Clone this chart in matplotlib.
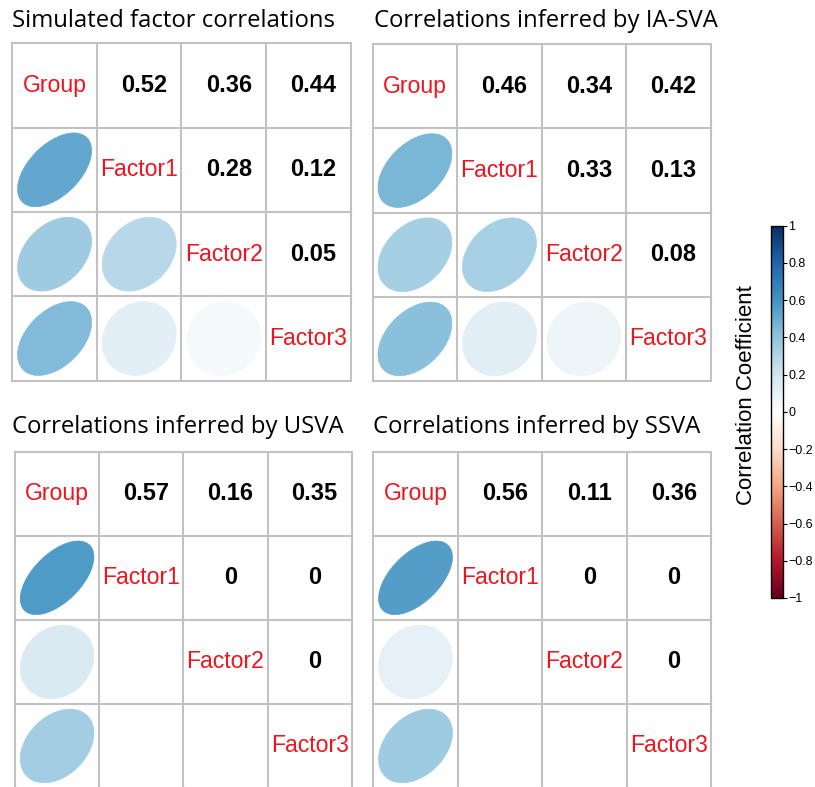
import numpy as np
import matplotlib
matplotlib.use("Agg")
import matplotlib.pyplot as plt
from matplotlib.colors import LinearSegmentedColormap, Normalize
from matplotlib.patches import Polygon
import matplotlib.colorbar as mcolorbar

# ---- data -------------------------------------------------------------
variables = ["Group", "Factor1", "Factor2", "Factor3"]

# upper-triangle correlations, row by row: (G,F1) (G,F2) (G,F3) (F1,F2) (F1,F3) (F2,F3)
simulated = [0.52, 0.36, 0.44, 0.28, 0.12, 0.05]
iasva = [0.46, 0.34, 0.42, 0.33, 0.13, 0.08]
usva = [0.57, 0.16, 0.35, 0.0, 0.0, 0.0]
ssva = [0.56, 0.11, 0.36, 0.0, 0.0, 0.0]

titles = [
    "Simulated factor correlations",
    "Correlations inferred by IA-SVA",
    "Correlations inferred by USVA",
    "Correlations inferred by SSVA",
]
panels = [simulated, iasva, usva, ssva]

cbar_ticks = [1, 0.8, 0.6, 0.4, 0.2, 0, -0.2, -0.4, -0.6, -0.8, -1]

# ---- styling ----------------------------------------------------------
W, H = 815, 787
DPI = 100
TITLE_FONT = ["Open Sans", "DejaVu Sans"]
CELL_FONT = ["Liberation Sans", "DejaVu Sans"]
GRID_COLOR = "#C2C2C2"
LABEL_COLOR = "#F0141E"

ramp = ["#67001F", "#B2182B", "#D6604D", "#F4A582", "#FDDBC7", "#FFFFFF",
        "#D1E5F0", "#92C5DE", "#4393C3", "#2166AC", "#053061"]
cmap = LinearSegmentedColormap.from_list("corr", ramp, N=201)
norm = Normalize(-1, 1)


def full_matrix(upper):
    n = len(variables)
    m = np.eye(n)
    it = iter(upper)
    for i in range(n):
        for j in range(i + 1, n):
            v = next(it)
            m[i, j] = m[j, i] = v
    return m


def ellipse_points(rho, cx, cy, scale=0.875, npts=99):
    k = np.linspace(0, 2 * np.pi, npts)
    a = np.arccos(rho) / 2
    x = np.cos(k + a) / 2 * scale
    y = np.cos(k - a) / 2 * scale
    # y axis runs downwards in the grid axes
    return np.column_stack([cx + x, cy - y])


def px_rect(x0, y0, x1, y1):
    return [x0 / W, 1 - y1 / H, (x1 - x0) / W, (y1 - y0) / H]


fig = plt.figure(figsize=(W / DPI, H / DPI), dpi=DPI)

# grid boxes (pixel coordinates) and title anchors
boxes = [
    (12.3, 43.3, 350.7, 380.7),
    (372.7, 44.3, 710.7, 381.0),
    (15.0, 451.7, 351.7, 788.0),
    (373.3, 451.7, 711.0, 788.0),
]
title_pos = [(12.3, 26.7), (374.5, 26.7), (12.3, 433.3), (373.3, 433.3)]

n = len(variables)
for upper, title, box, tpos in zip(panels, titles, boxes, title_pos):
    m = full_matrix(upper)
    ax = fig.add_axes(px_rect(*box))
    ax.set_xlim(0, n)
    ax.set_ylim(n, 0)
    ax.axis("off")

    for i in range(n):
        for j in range(n):
            cx, cy = j + 0.5, i + 0.5
            if i == j:
                ax.text(cx, cy, variables[i], color=LABEL_COLOR, fontsize=16.6,
                        family=CELL_FONT, ha="center", va="center")
            elif j > i:
                v = m[i, j]
                txt = f"{v:.2f}" if v != 0 else "0"
                ax.text(cx + 0.06, cy, txt, color="black", fontsize=17,
                        fontweight="bold", family=CELL_FONT,
                        ha="center", va="center")
            else:
                v = m[i, j]
                col = cmap(norm(v))
                ax.add_patch(Polygon(ellipse_points(v, cx, cy), closed=True,
                                     facecolor=col, edgecolor=col, lw=0.5))

    for k in range(n + 1):
        ax.plot([0, n], [k, k], color=GRID_COLOR, lw=1.5, clip_on=False,
                solid_capstyle="projecting")
        ax.plot([k, k], [0, n], color=GRID_COLOR, lw=1.5, clip_on=False,
                solid_capstyle="projecting")

    fig.text(tpos[0] / W, 1 - tpos[1] / H, title, fontsize=17.2,
             family=TITLE_FONT, ha="left", va="baseline")

# ---- colour bar -------------------------------------------------------
cax = fig.add_axes(px_rect(771, 225.7, 783, 598))
cb = mcolorbar.ColorbarBase(cax, cmap=cmap, norm=norm, orientation="vertical")
cb.set_ticks(cbar_ticks)
cb.set_ticklabels([("\u2212" if t < 0 else "") + (f"{abs(t):g}") for t in cbar_ticks])
cax.tick_params(axis="y", length=3, width=0.8, pad=1, labelsize=9,
                labelfontfamily="Liberation Sans")
cb.outline.set_linewidth(1.0)
fig.text(746 / W, 1 - 395 / H, "Correlation Coefficient", rotation=90,
         fontsize=16, family=CELL_FONT, ha="center", va="center")

fig.savefig("out.png", dpi=DPI)
